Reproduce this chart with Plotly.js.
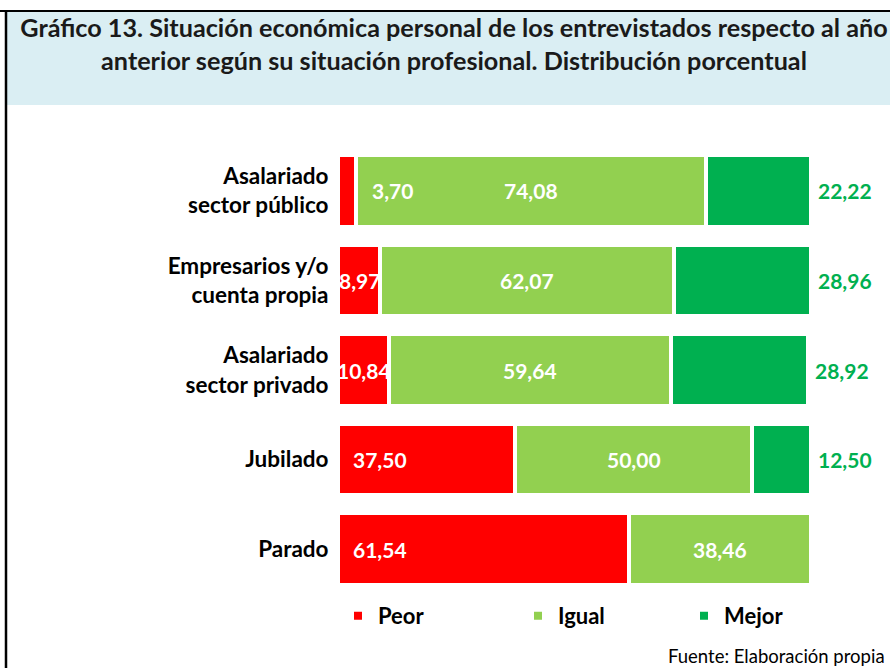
<!DOCTYPE html>
<html>
<head>
<meta charset="utf-8">
<script src="https://cdn.plot.ly/plotly-3.0.1.min.js"></script>
<style>html,body{margin:0;padding:0;background:#fff;}#chart{width:890px;height:668px;}</style>
</head>
<body>
<div id="chart"></div>
<script>
const categories = ["Asalariado<br>sector público", "Empresarios y/o<br>cuenta propia", "Asalariado<br>sector privado", "Jubilado", "Parado"];
const peor = [3.70, 8.97, 10.84, 37.50, 61.54];
const igual = [74.08, 62.07, 59.64, 50.00, 38.46];
const mejor = [22.22, 28.96, 28.92, 12.50, 0];
const seriesNames = ["Peor", "Igual", "Mejor"];
const colors = ["#FF0000", "#92D050", "#00B050"];
const titleText = "Gráfico 13. Situación económica personal de los entrevistados respecto al año<br>anterior según su situación profesional. Distribución porcentual";
const sourceText = "Fuente: Elaboración propia";

const FONT = "Lato, 'Open Sans', sans-serif";
const fmt = v => v.toFixed(2).replace(".", ",");

const W = 890, H = 668;
const mL = 338, mR = 79, mT = 146, mB = 74;
const pw = W - mL - mR, ph = H - mT - mB;
const px = x => (x - mL) / pw;          // pixel -> paper x
const py = y => (H - mB - y) / ph;      // pixel -> paper y

const legendIds = ["legend", "legend2", "legend3"];
const legendX = [338, 518, 684];

const vals = [peor, igual, mejor];
const traces = vals.map((v, i) => ({
  type: "bar", orientation: "h", name: seriesNames[i],
  y: categories, x: v, legend: legendIds[i],
  marker: {color: colors[i], line: {color: "#FFFFFF", width: 4}},
  hoverinfo: "x+name"
}));

const annotations = [];
const lblFont = {family: FONT, size: 21, color: "#FFFFFF", weight: "bold"};
categories.forEach((c, k) => {
  const p = peor[k];
  if (p > 0) {
    let a = {x: 0, y: c, xref: "x", yref: "y", text: "<b>" + fmt(p) + "</b>", showarrow: false, font: lblFont};
    if (p < 5) { a.x = p; a.xanchor = "left"; a.xshift = 14; }
    else if (p < 20) { a.x = p / 2; a.xanchor = "center"; }
    else { a.xanchor = "left"; a.xshift = 13; }
    annotations.push(a);
  }
  if (igual[k] > 0) {
    annotations.push({x: peor[k] + igual[k] / 2, y: c, text: "<b>" + fmt(igual[k]) + "</b>", showarrow: false, font: lblFont, xanchor: "center"});
  }
  if (mejor[k] > 0) {
    annotations.push({x: peor[k] + igual[k] + mejor[k], y: c, text: "<b>" + fmt(mejor[k]) + "</b>", showarrow: false,
      font: {family: FONT, size: 21, color: "#00B050"}, xanchor: "left", xshift: 5});
  }
});
annotations.push({xref: "paper", yref: "paper", x: px(887), y: py(656), xanchor: "right", yanchor: "middle",
  text: sourceText, showarrow: false, font: {family: FONT, size: 18.5, color: "#000000"}});

const legendBase = {orientation: "h", yanchor: "middle", y: py(616), xanchor: "left", bgcolor: "rgba(0,0,0,0)",
  itemwidth: 30, font: {family: FONT, size: 22, color: "#000000", weight: "bold"}};

const layout = {
  width: W, height: H,
  margin: {l: mL, r: mR, t: mT, b: mB, pad: 0, autoexpand: false},
  paper_bgcolor: "#FFFFFF", plot_bgcolor: "#FFFFFF",
  barmode: "stack", bargap: 0.2,
  font: {family: FONT, color: "#000000"},
  title: {text: "<b>" + titleText + "</b>", x: 454 / W, xref: "container", xanchor: "center", y: 1 - 37 / H, yref: "container", yanchor: "middle",
    font: {family: FONT, size: 25.2, color: "#1A1A1A"}},
  xaxis: {range: [0, 100], showgrid: false, zeroline: false, showticklabels: false, ticks: "", showline: false, fixedrange: true},
  yaxis: {autorange: "reversed", showgrid: false, zeroline: false, showline: false, ticks: "outside", ticklen: 4, tickcolor: "rgba(0,0,0,0)",
    tickfont: {family: FONT, size: 22.5, color: "#000000", weight: "bold"}, fixedrange: true},
  showlegend: true,
  shapes: [
    {type: "rect", xref: "paper", yref: "paper", x0: px(7), x1: px(W + 5), y0: py(105), y1: py(12), fillcolor: "#DAEEF3", line: {width: 0}, layer: "below"},
    {type: "line", xref: "paper", yref: "paper", x0: px(0), x1: px(W + 5), y0: py(11), y1: py(11), line: {color: "#000000", width: 2}},
    {type: "line", xref: "paper", yref: "paper", x0: px(6), x1: px(6), y0: py(10), y1: py(H + 5), line: {color: "#000000", width: 2.5}}
  ],
  annotations: annotations
};
legendIds.forEach((id, i) => { layout[id] = Object.assign({}, legendBase, {x: px(legendX[i])}); });

Plotly.newPlot("chart", traces, layout, {displayModeBar: false, staticPlot: true});
</script>
</body>
</html>
